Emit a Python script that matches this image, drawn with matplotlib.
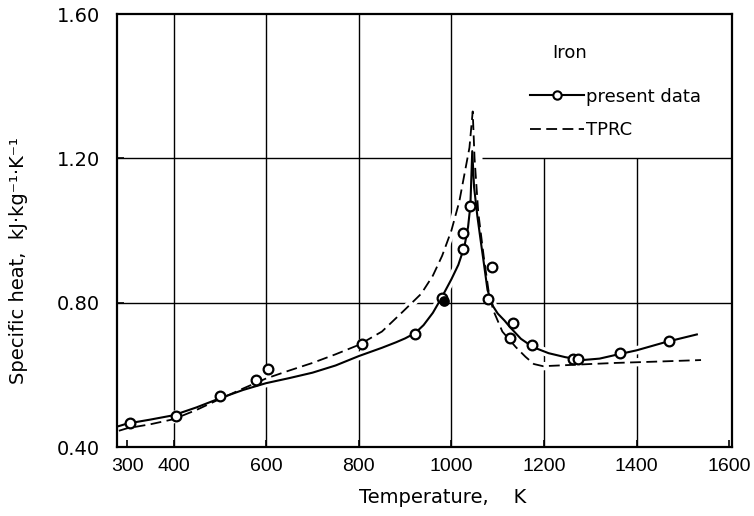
import matplotlib
matplotlib.use("Agg")
import matplotlib.pyplot as plt
from matplotlib.lines import Line2D

# measured points (present data)
temp_pts = [305, 406, 500, 578, 604, 806, 922, 980, 1026, 1026, 1041,
            1080, 1087, 1126, 1133, 1174, 1263, 1274, 1363, 1470]
cp_pts = [0.467, 0.486, 0.541, 0.586, 0.616, 0.685, 0.713, 0.813, 0.949, 0.993, 1.068,
          0.810, 0.899, 0.702, 0.744, 0.683, 0.644, 0.644, 0.660, 0.694]
# one filled point hidden behind the pair near 980 K
temp_filled = [985]
cp_filled = [0.805]

# fitted curve through present data
temp_fit = [282, 300, 350, 400, 450, 500, 550, 600, 650, 700, 750, 800, 850, 880, 900,
            922, 940, 960, 978, 1000, 1015, 1028, 1036, 1041, 1045, 1049, 1056, 1063, 1070,
            1078, 1090, 1100, 1115, 1126, 1150, 1176, 1210, 1246, 1283, 1320,
            1354, 1400, 1463, 1530]
cp_fit = [0.458, 0.465, 0.476, 0.488, 0.510, 0.535, 0.558, 0.577, 0.591, 0.606,
          0.626, 0.652, 0.675, 0.690, 0.701, 0.716, 0.738, 0.772, 0.812, 0.865, 0.905,
          0.955, 1.010, 1.070, 1.220, 1.120, 1.040, 0.974, 0.910, 0.835, 0.790, 0.770,
          0.750, 0.733, 0.700, 0.677, 0.660, 0.649, 0.641, 0.645, 0.655, 0.668, 0.691, 0.712]

# TPRC recommended curve
temp_tprc = [282, 300, 350, 400, 450, 500, 550, 600, 650, 700, 750, 800, 850, 895,
             935, 960, 980, 1000, 1017, 1028, 1039, 1046, 1050, 1058, 1070, 1080,
             1090, 1110, 1139, 1160, 1178, 1198, 1250, 1300, 1354, 1450, 1539]
cp_tprc = [0.445, 0.452, 0.463, 0.477, 0.503, 0.533, 0.562, 0.590, 0.612, 0.633,
           0.657, 0.683, 0.720, 0.775, 0.825, 0.875, 0.930, 1.000, 1.080, 1.155,
           1.230, 1.330, 1.200, 1.050, 0.926, 0.835, 0.780, 0.720, 0.677, 0.650,
           0.630, 0.624, 0.627, 0.630, 0.633, 0.637, 0.641]

x_ticks = [300, 400, 600, 800, 1000, 1200, 1400, 1600]
y_ticks = [0.40, 0.80, 1.20, 1.60]

plt.rcParams['font.family'] = ['DejaVu Sans']

fig = plt.figure(figsize=(7.54, 5.16), dpi=100)
ax = fig.add_axes([0.1552, 0.1337, 0.8157, 0.8391])
xmin, xmax = 278, 1606
ymin, ymax = 0.40, 1.60
ax.set_xlim(xmin, xmax)
ax.set_ylim(ymin, ymax)

# grid, drawn by hand so the legend corner stays clear
grid_kw = dict(color='black', lw=1.0, zorder=1)
for t in [400, 600, 800, 1000]:
    ax.vlines(t, ymin, ymax, **grid_kw)
for t in [1200, 1400]:
    ax.vlines(t, ymin, 1.20, **grid_kw)
ax.hlines(0.80, xmin, xmax, **grid_kw)
ax.hlines(1.20, xmin, 1000, **grid_kw)
ax.hlines(1.20, 1067, xmax, **grid_kw)

# white halos so grid lines break where curves pass
ax.plot(temp_fit, cp_fit, color='white', lw=6, zorder=1.5, solid_capstyle='butt')
ax.plot(temp_tprc, cp_tprc, color='white', lw=6, zorder=1.5, solid_capstyle='butt')

ax.plot(temp_fit, cp_fit, color='black', lw=1.5, zorder=3)
tprc_line, = ax.plot(temp_tprc, cp_tprc, color='black', lw=1.3, zorder=3)
tprc_line.set_dashes((6, 3))
ax.plot(temp_pts, cp_pts, 'o', ms=7, mfc='white', mec='black', mew=1.6, zorder=4)
ax.plot(temp_filled, cp_filled, 'o', ms=6.5, mfc='black', mec='black', mew=1.2, zorder=5)

ax.set_xticks(x_ticks)
ax.set_yticks(y_ticks)
ax.set_yticklabels([f"{v:.2f}" for v in y_ticks], fontsize=14)
ax.set_xticklabels([str(v) for v in x_ticks], fontsize=14,
                   family=['Liberation Sans', 'DejaVu Sans'])
ax.tick_params(direction='in', length=5, width=1.2, pad=8)
ax.tick_params(axis='y', pad=12)
for sp in ax.spines.values():
    sp.set_linewidth(1.6)

ax.set_xlabel("Temperature,    K", fontsize=14)
ax.xaxis.set_label_coords(0.53, -0.095)
ax.set_ylabel("Specific heat,  kJ·kg⁻¹·K⁻¹", fontsize=14)
ax.yaxis.set_label_coords(-0.145, 0.43)

ax.text(0.707, 0.910, "Iron", transform=ax.transAxes, fontsize=13, va='center')
handles = [
    Line2D([], [], color='black', lw=1.5, marker='o', ms=6, mfc='white',
           mec='black', mew=1.5),
    Line2D([], [], color='black', lw=1.3, dashes=(6, 3)),
]
ax.legend(handles, ["present data", "TPRC"], loc='upper left',
          bbox_to_anchor=(0.672, 0.83), frameon=False, fontsize=13,
          handlelength=3.0, handletextpad=0.1, labelspacing=0.85,
          borderpad=0, borderaxespad=0, numpoints=1)

fig.savefig("out.png", dpi=100)
